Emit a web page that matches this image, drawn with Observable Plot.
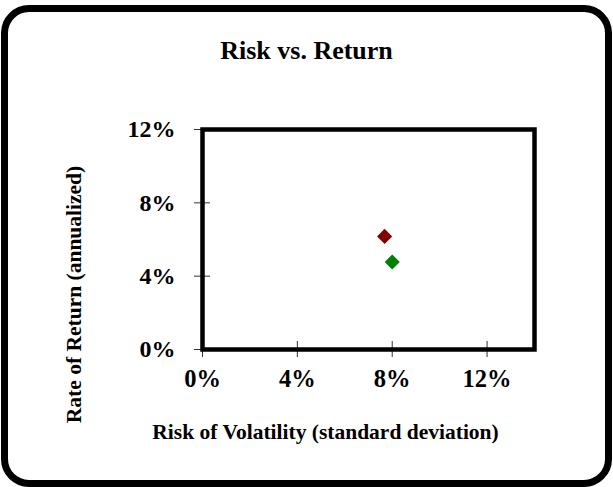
<!DOCTYPE html>
<html>
<head>
<meta charset="utf-8">
<script src="https://cdn.jsdelivr.net/npm/d3@7"></script>
<script src="https://cdn.jsdelivr.net/npm/@observablehq/plot@0.6"></script>
<style>
  html, body { margin: 0; padding: 0; background: #fff; }
  #wrap { position: relative; width: 613px; height: 487px; background: #fff; overflow: hidden; }
  #border { position: absolute; left: 1px; top: 5px; width: 611px; height: 482px; box-sizing: border-box;
            border: 7px solid #000; border-radius: 28px; }
  #chart { position: absolute; left: 0; top: 0; }
</style>
</head>
<body>
<div id="wrap"><div id="border"></div><div id="chart"></div></div>
<script>
// Data (values in percent)
const seriesNames = ["Series 1", "Series 2"];
const riskValues = [7.68, 8.0];
const returnValues = [6.17, 4.77];
const seriesColors = ["#800000", "#008000"];
const xTicks = [0, 4, 8, 12];
const yTicks = [0, 4, 8, 12];
const chartTitle = "Risk vs. Return";
const xTitle = "Risk of Volatility (standard deviation)";
const yTitle = "Rate of Return (annualized)";

const points = seriesNames.map((name, i) => ({
  name, risk: riskValues[i], ret: returnValues[i], color: seriesColors[i]
}));
const pct = d => d + "%";
const font = "'Liberation Serif', 'Times New Roman', Times, serif";

const chart = Plot.plot({
  width: 613,
  height: 487,
  marginLeft: 202,
  marginRight: 79,
  marginTop: 129,
  marginBottom: 138,
  x: {domain: [0, 14]},
  y: {domain: [0, 12]},
  color: {type: "identity"},
  style: {fontFamily: font, background: "transparent", color: "#000"},
  marks: [
    // cross ticks
    Plot.axisX(xTicks, {tickSize: 16, dy: -8, tickFormat: () => "", label: null, color: "#333"}),
    Plot.axisY(yTicks, {tickSize: 16, dx: 8, tickFormat: () => "", label: null, color: "#333"}),
    // tick labels
    Plot.axisX(xTicks, {tickSize: 0, tickPadding: 20, tickFormat: pct, label: null,
      fontSize: 24.5, fontWeight: "bold", color: "#000"}),
    Plot.axisY(yTicks, {tickSize: 0, tickPadding: 27, tickFormat: pct, label: null,
      fontSize: 24, fontWeight: "bold", color: "#000"}),
    Plot.frame({stroke: "#000", strokeWidth: 4.5}),
    Plot.dot(points, {x: "risk", y: "ret", symbol: "diamond2", r: 6.8, fill: "color", stroke: null}),
    Plot.text([chartTitle], {text: d => d, frameAnchor: "top", dx: -62, dy: -71,
      lineAnchor: "bottom", fontSize: 26, fontWeight: "bold", fill: "#000"}),
    Plot.text([xTitle], {text: d => d, frameAnchor: "bottom", dx: -43, dy: 89,
      lineAnchor: "bottom", fontSize: 21.5, fontWeight: "bold", fill: "#000"}),
    Plot.text([yTitle], {text: d => d, frameAnchor: "left", textAnchor: "middle", rotate: -90, dx: -122, dy: 55,
      lineAnchor: "bottom", fontSize: 21.5, fontWeight: "bold", fill: "#000"})
  ]
});
document.getElementById("chart").appendChild(chart);
</script>
</body>
</html>
